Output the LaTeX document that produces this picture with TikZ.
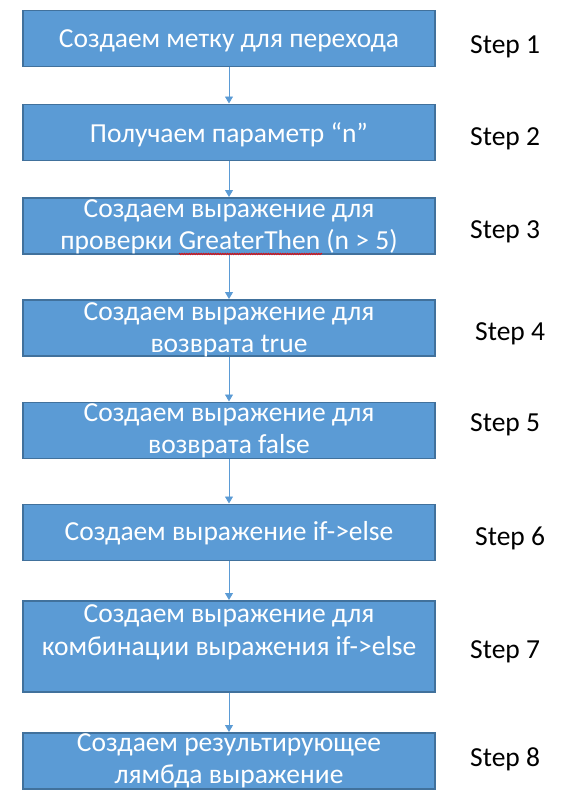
\documentclass[tikz,border=0pt]{standalone}
\usepackage{fontspec}
\setmainfont{Carlito}
\usetikzlibrary{arrows.meta,decorations.pathmorphing}
\definecolor{boxfill}{HTML}{5B9BD5}
\definecolor{boxline}{HTML}{41719C}
\definecolor{arrowc}{HTML}{5B9BD5}
\begin{document}
\begin{tikzpicture}[x=1pt,y=-1pt,
  stepbox/.style={draw=boxline, line width=1.5pt, fill=boxfill, minimum width=412pt,
    minimum height=56pt, inner sep=0pt, anchor=north},
  boxtext/.style={text=white, font=\fontsize{27.5}{32}\selectfont, inner sep=0pt, anchor=base},
  steplabel/.style={text=black, font=\fontsize{27.5}{32}\selectfont, inner sep=0pt, anchor=base west},
  conn/.style={draw=arrowc, line width=0.9pt, -{Triangle[length=7pt,width=8pt]}}]
\useasboundingbox (0,0) rectangle (576,804);

% boxes
\node[stepbox] (b1) at (229,9.5) {};
\node[stepbox] (b2) at (229,103.5) {};
\node[stepbox] (b3) at (229,197) {};
\node[stepbox] (b4) at (229,299) {};
\node[stepbox] (b5) at (229,401.5) {};
\node[stepbox] (b6) at (229,503.5) {};
\node[stepbox, minimum height=91pt] (b7) at (229,600) {};
\node[stepbox] (b8) at (229,732) {};

% connectors
\draw[conn] (b1.south) -- (b2.north);
\draw[conn] (b2.south) -- (b3.north);
\draw[conn] (b3.south) -- (b4.north);
\draw[conn] (b4.south) -- (b5.north);
\draw[conn] (b5.south) -- (b6.north);
\draw[conn] (b6.south) -- (b7.north);
\draw[conn] (b7.south) -- (b8.north);

% box texts
\node[boxtext] (t1) at (229,47) {Создаем метку для перехода};
\node[boxtext] (t2) at (229,142) {Получаем параметр “n”};
\node[boxtext] (t3a) at (229,217) {Создаем выражение для};
\node[boxtext] (t3b) at (229,249) {проверки GreaterThen (n > 5)};
\node[boxtext] (t4a) at (229,320) {Создаем выражение для};
\node[boxtext] (t4b) at (229,352) {возврата true};
\node[boxtext] (t5a) at (229,421.5) {Создаем выражение для};
\node[boxtext] (t5b) at (229,453) {возврата false};
\node[boxtext] (t6) at (229,540.5) {Создаем выражение if->else};
\node[boxtext] (t7a) at (229,622) {Создаем выражение для};
\node[boxtext] (t7b) at (229,655) {комбинации выражения if->else};
\node[boxtext] (t8a) at (229,751.5) {Создаем результирующее};
\node[boxtext] (t8b) at (229,783) {лямбда выражение};

% spell-check squiggle
\draw[red, line width=0.6pt, decorate, decoration={zigzag, amplitude=0.8pt, segment length=2.4pt}] (179,254) -- (322,254);

% step labels
\node[steplabel] (s1) at (470,53.3) {Step 1};
\node[steplabel] (s2) at (470,145) {Step 2};
\node[steplabel] (s3) at (470,238) {Step 3};
\node[steplabel] (s4) at (475,340) {Step 4};
\node[steplabel] (s5) at (470,431.7) {Step 5};
\node[steplabel] (s6) at (475,545) {Step 6};
\node[steplabel] (s7) at (470,658) {Step 7};
\node[steplabel] (s8) at (470,766.7) {Step 8};
\end{tikzpicture}
\end{document}
